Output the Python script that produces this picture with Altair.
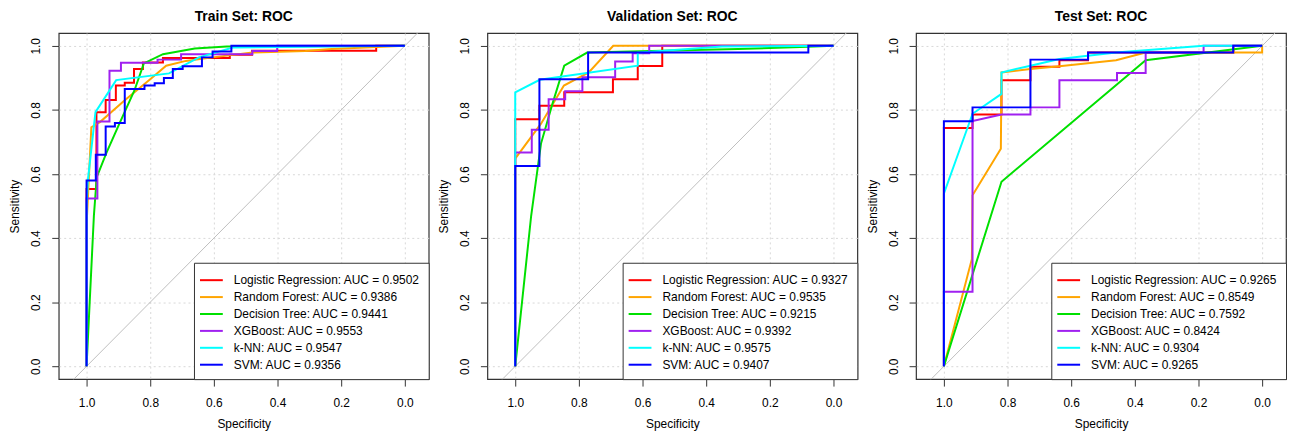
import altair as alt
import pandas as pd

models = ["Logistic Regression", "Random Forest", "Decision Tree", "XGBoost", "k-NN", "SVM"]
colors = ["#FF0000", "#FFA500", "#00E000", "#A020F0", "#00FFFF", "#0000FF"]

train_auc = ["0.9502", "0.9386", "0.9441", "0.9553", "0.9547", "0.9356"]
valid_auc = ["0.9327", "0.9535", "0.9215", "0.9392", "0.9575", "0.9407"]
test_auc = ["0.9265", "0.8549", "0.7592", "0.8424", "0.9304", "0.9265"]

# ---------------- Train set ----------------
tr_lr_spec = [1.0, 1.0, 0.969, 0.969, 0.94, 0.94, 0.908, 0.908, 0.88, 0.88, 0.851, 0.851, 0.823, 0.823, 0.76, 0.76, 0.55, 0.55, 0.48, 0.48, 0.09, 0.09, 0.0]
tr_lr_sens = [0.0, 0.553, 0.553, 0.793, 0.793, 0.831, 0.831, 0.876, 0.876, 0.885, 0.885, 0.928, 0.928, 0.948, 0.948, 0.962, 0.962, 0.972, 0.972, 0.985, 0.985, 1.0, 1.0]
tr_rf_spec = [1.0, 1.0, 0.985, 0.958, 0.88, 0.80, 0.75, 0.688, 0.604, 0.479, 0.3125, 0.23, 0.0]
tr_rf_sens = [0.0, 0.44, 0.746, 0.762, 0.83, 0.896, 0.938, 0.953, 0.964, 0.979, 0.984, 0.99, 1.0]
tr_dt_spec = [1.0, 0.977, 0.968, 0.938, 0.9, 0.85, 0.82, 0.76, 0.66, 0.56, 0.0]
tr_dt_sens = [0.0, 0.47, 0.59, 0.665, 0.75, 0.86, 0.945, 0.974, 0.992, 0.998, 1.0]
tr_xgb_spec = [1.0, 1.0, 0.966, 0.966, 0.928, 0.928, 0.892, 0.892, 0.777, 0.777, 0.703, 0.703, 0.479, 0.479, 0.401, 0.401, 0.0]
tr_xgb_sens = [0.0, 0.524, 0.524, 0.764, 0.764, 0.922, 0.922, 0.947, 0.947, 0.957, 0.957, 0.974, 0.974, 0.984, 0.984, 1.0, 1.0]
tr_knn_spec = [1.0, 1.0, 0.996, 0.972, 0.907, 0.741, 0.647, 0.54, 0.0]
tr_knn_sens = [0.0, 0.5, 0.58, 0.793, 0.893, 0.914, 0.964, 0.995, 1.0]
tr_svm_spec = [1.0, 1.0, 0.971, 0.971, 0.94, 0.94, 0.911, 0.911, 0.88, 0.88, 0.818, 0.818, 0.786, 0.786, 0.757, 0.757, 0.729, 0.729, 0.698, 0.698, 0.6375, 0.6375, 0.604, 0.604, 0.545, 0.545, 0.0]
tr_svm_sens = [0.0, 0.58, 0.58, 0.66, 0.66, 0.748, 0.748, 0.759, 0.759, 0.865, 0.865, 0.876, 0.876, 0.883, 0.883, 0.9, 0.9, 0.928, 0.928, 0.936, 0.936, 0.964, 0.964, 0.982, 0.982, 1.0, 1.0]

# ---------------- Validation set ----------------
va_lr_spec = [1.0, 1.0, 0.924, 0.924, 0.846, 0.846, 0.693, 0.693, 0.615, 0.615, 0.538, 0.538, 0.0]
va_lr_sens = [0.0, 0.771, 0.771, 0.813, 0.813, 0.855, 0.855, 0.896, 0.896, 0.937, 0.937, 1.0, 1.0]
va_rf_spec = [1.0, 1.0, 0.919, 0.847, 0.769, 0.692, 0.0]
va_rf_sens = [0.0, 0.648, 0.757, 0.876, 0.917, 1.0, 1.0]
va_dt_spec = [1.0, 0.95, 0.919, 0.883, 0.846, 0.774, 0.3, 0.08, 0.0]
va_dt_sens = [0.0, 0.469, 0.695, 0.819, 0.938, 0.979, 0.99, 0.997, 1.0]
va_xgb_spec = [1.0, 1.0, 0.948, 0.948, 0.895, 0.895, 0.843, 0.843, 0.789, 0.789, 0.686, 0.686, 0.631, 0.631, 0.579, 0.579, 0.0]
va_xgb_sens = [0.0, 0.667, 0.667, 0.738, 0.738, 0.833, 0.833, 0.858, 0.858, 0.902, 0.902, 0.951, 0.951, 0.977, 0.977, 1.0, 1.0]
va_knn_spec = [1.0, 1.0, 0.923, 0.615, 0.615, 0.35, 0.0]
va_knn_sens = [0.0, 0.855, 0.894, 0.938, 0.979, 0.998, 1.0]
va_svm_spec = [1.0, 1.0, 0.924, 0.924, 0.771, 0.771, 0.079, 0.079, 0.0]
va_svm_sens = [0.0, 0.625, 0.625, 0.896, 0.896, 0.979, 0.979, 1.0, 1.0]

# ---------------- Test set ----------------
te_lr_spec = [1.0, 1.0, 0.91, 0.91, 0.819, 0.819, 0.728, 0.728, 0.637, 0.637, 0.547, 0.547, 0.09, 0.09, 0.0]
te_lr_sens = [0.0, 0.744, 0.744, 0.786, 0.786, 0.893, 0.893, 0.935, 0.935, 0.955, 0.955, 0.979, 0.979, 1.0, 1.0]
te_rf_spec = [1.0, 0.912, 0.91, 0.821, 0.819, 0.728, 0.637, 0.459, 0.366, 0.0, 0.0]
te_rf_sens = [0.0, 0.335, 0.534, 0.679, 0.917, 0.928, 0.936, 0.955, 0.979, 0.979, 1.0]
te_dt_spec = [1.0, 0.819, 0.366, 0.0]
te_dt_sens = [0.0, 0.576, 0.955, 1.0]
te_xgb_spec = [1.0, 1.0, 0.91, 0.91, 0.819, 0.728, 0.728, 0.637, 0.637, 0.456, 0.456, 0.366, 0.366, 0.184, 0.184, 0.0]
te_xgb_sens = [0.0, 0.233, 0.233, 0.765, 0.786, 0.786, 0.808, 0.808, 0.893, 0.893, 0.915, 0.915, 0.979, 0.979, 1.0, 1.0]
te_knn_spec = [1.0, 1.0, 0.91, 0.819, 0.819, 0.728, 0.637, 0.459, 0.184, 0.0]
te_knn_sens = [0.0, 0.539, 0.788, 0.85, 0.917, 0.938, 0.959, 0.979, 1.0, 1.0]
te_svm_spec = [1.0, 1.0, 0.91, 0.91, 0.728, 0.728, 0.547, 0.547, 0.091, 0.091, 0.0]
te_svm_sens = [0.0, 0.765, 0.765, 0.808, 0.808, 0.957, 0.957, 0.979, 0.979, 1.0, 1.0]

# chance diagonal endpoints (clipped to the plot box)
diag_spec = [1.2, -0.2]
diag_sens = [-0.2, 1.2]

tick_vals = [0.0, 0.2, 0.4, 0.6, 0.8, 1.0]
FONT = "Liberation Sans"


def build_df(curves, aucs):
    labels = [f"{m}: AUC = {a}" for m, a in zip(models, aucs)]
    rows = []
    for k, (spec, sens) in enumerate(curves):
        for i, (x, y) in enumerate(zip(spec, sens)):
            rows.append({"label": labels[k], "k": k, "idx": i, "spec": x, "sens": y})
    return pd.DataFrame(rows), labels


x_scale = alt.Scale(domain=[-0.075, 1.0875], reverse=True, nice=False, zero=False)
y_scale = alt.Scale(domain=[-0.04, 1.04], nice=False, zero=False)

common_axis = dict(
    values=tick_vals, format=".1f", grid=True, gridDash=[2, 3], gridColor="#D8D8D8",
    domain=False, tickSize=7, tickColor="#333333", labelFontSize=12, labelFont=FONT,
    labelColor="black", titleFontSize=12, titleFont=FONT, titleFontWeight="normal",
    titleColor="black", labelFlush=False,
)
x_axis = alt.Axis(title="Specificity", labelPadding=12, titlePadding=10, **common_axis)
y_axis = alt.Axis(title="Sensitivity", labelAngle=270, labelAlign="center",
                  labelBaseline="bottom", labelPadding=9, titlePadding=8, **common_axis)


def panel(title, curves, aucs):
    df, labels = build_df(curves, aucs)
    diag_df = pd.DataFrame({"spec": diag_spec, "sens": diag_sens})
    diag = alt.Chart(diag_df).mark_line(color="#BEBEBE", strokeWidth=1, clip=True).encode(
        x=alt.X("spec:Q", scale=x_scale, axis=x_axis),
        y=alt.Y("sens:Q", scale=y_scale, axis=y_axis),
    )
    lines = alt.Chart(df).mark_line(strokeWidth=2, clip=True).encode(
        x=alt.X("spec:Q", scale=x_scale, axis=x_axis),
        y=alt.Y("sens:Q", scale=y_scale, axis=y_axis),
        color=alt.Color(
            "label:N",
            scale=alt.Scale(domain=labels, range=colors),
            sort=labels,
            legend=alt.Legend(
                title=None, orient="bottom-right", offset=0, padding=8,
                strokeColor="#333333", fillColor="white",
                symbolType="M-1.35,0L1.35,0", symbolFillColor="transparent",
                symbolSize=289, symbolStrokeWidth=2, labelFontSize=12, labelFont=FONT,
                labelColor="black", labelOffset=13, labelLimit=0, rowPadding=1,
            ),
        ),
        order=alt.Order("idx:Q"),
    )
    return alt.layer(diag, lines).properties(
        width=372, height=348,
        title=alt.TitleParams(title, fontSize=14, fontWeight="bold", font=FONT,
                              anchor="middle", offset=9, color="black"),
    )


p1 = panel("Train Set: ROC", [
    (tr_lr_spec, tr_lr_sens), (tr_rf_spec, tr_rf_sens), (tr_dt_spec, tr_dt_sens),
    (tr_xgb_spec, tr_xgb_sens), (tr_knn_spec, tr_knn_sens), (tr_svm_spec, tr_svm_sens)], train_auc)
p2 = panel("Validation Set: ROC", [
    (va_lr_spec, va_lr_sens), (va_rf_spec, va_rf_sens), (va_dt_spec, va_dt_sens),
    (va_xgb_spec, va_xgb_sens), (va_knn_spec, va_knn_sens), (va_svm_spec, va_svm_sens)], valid_auc)
p3 = panel("Test Set: ROC", [
    (te_lr_spec, te_lr_sens), (te_rf_spec, te_rf_sens), (te_dt_spec, te_dt_sens),
    (te_xgb_spec, te_xgb_sens), (te_knn_spec, te_knn_sens), (te_svm_spec, te_svm_sens)], test_auc)

chart = alt.hconcat(p1, p2, p3, spacing=6).resolve_scale(color="independent").configure_view(
    stroke="#333333", strokeWidth=1.2
).properties(padding={"left": 0, "top": 0, "right": 0, "bottom": 0}, background="white")

chart.save("out.html", embed_options={"renderer": "svg", "actions": False})
